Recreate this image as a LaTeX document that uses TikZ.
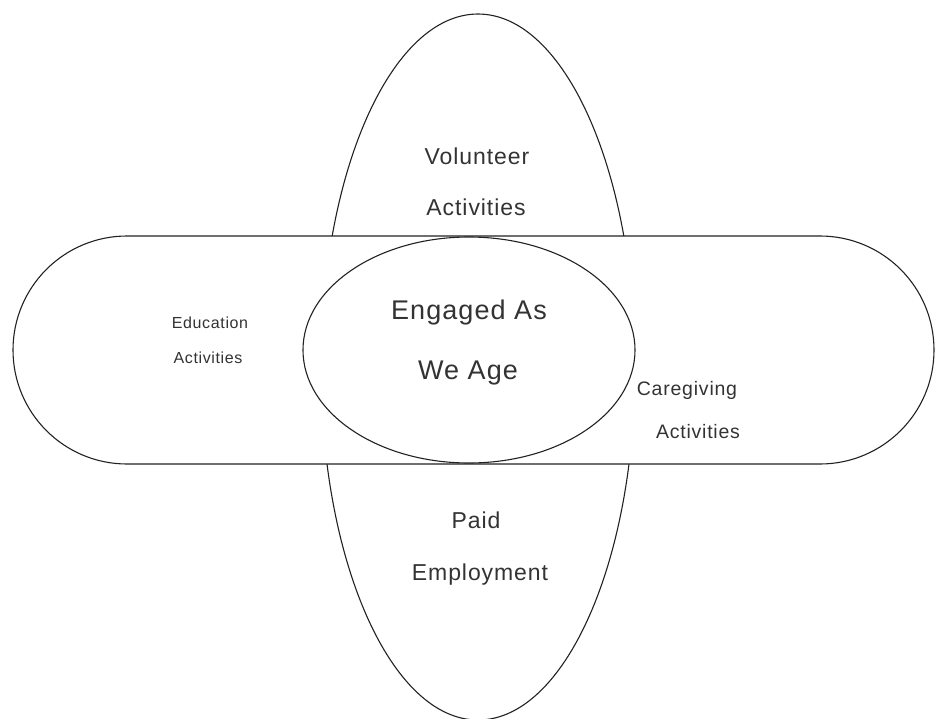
\documentclass[tikz,border=0pt]{standalone}
\usepackage{fontspec}
\setmainfont[LetterSpace=4]{Liberation Sans}
\usetikzlibrary{shapes.geometric,shapes.misc}
\definecolor{linec}{HTML}{222222}
\definecolor{textc}{HTML}{333333}
\tikzset{
  shapeline/.style={draw=linec, line width=1.1pt, fill=white, inner sep=0pt},
  oval/.style={shapeline, ellipse},
  band/.style={shapeline, rounded rectangle},
  lbl/.style={text=textc, anchor=base, inner sep=0pt},
  bigtxt/.style={lbl, font=\fontsize{27}{31}\selectfont},
  midtxt/.style={lbl, font=\fontsize{23}{27}\selectfont},
  cgtxt/.style={lbl, font=\fontsize{19.5}{23}\selectfont},
  smalltxt/.style={lbl, font=\fontsize{16}{19}\selectfont}
}
\begin{document}
\begin{tikzpicture}[x=1pt,y=-1pt]
\useasboundingbox (0,0) rectangle (935,718);
\node[oval, minimum width=314pt, minimum height=706pt] (vert) at (478,367) {};
\node[band, minimum width=921pt, minimum height=228pt] (horiz) at (473.5,350) {};
\node[oval, minimum width=332pt, minimum height=226pt] (core) at (469,350) {};
% labels
\node[midtxt] (vol1) at (477,164) {Volunteer};
\node[midtxt] (vol2) at (476,215) {Activities};
\node[bigtxt] (eng1) at (469,319) {Engaged As};
\node[bigtxt] (eng2) at (468,379) {We Age};
\node[smalltxt] (edu1) at (210,328) {Education};
\node[smalltxt] (edu2) at (208,363) {Activities};
\node[cgtxt] (care1) at (687,395) {Caregiving};
\node[cgtxt] (care2) at (698,438) {Activities};
\node[midtxt] (paid1) at (476,528) {Paid};
\node[midtxt] (paid2) at (480,580) {Employment};
\end{tikzpicture}
\end{document}
